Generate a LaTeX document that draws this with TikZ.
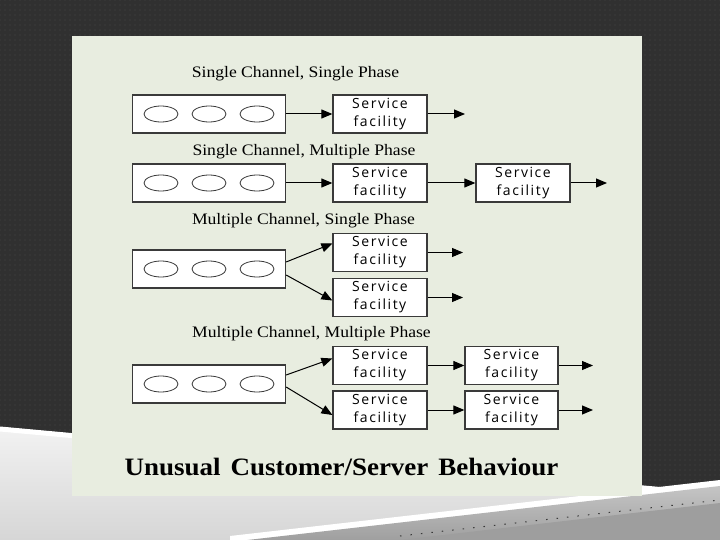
\documentclass[tikz,border=0pt]{standalone}
\usepackage{fontspec}
\setmainfont{Liberation Serif}
\newfontfamily\titlefont[FakeStretch=1.1]{Liberation Serif}
\newfontfamily\capfont[FakeStretch=1.08]{Liberation Serif}
\newfontfamily\svcfont[LetterSpace=11]{Open Sans}
\usetikzlibrary{arrows.meta,shapes.geometric,patterns.meta}
\definecolor{bgdark}{HTML}{303030}
\definecolor{bgdot}{HTML}{474747}
\definecolor{panel}{HTML}{E8EDE0}
\definecolor{boxline}{HTML}{3A3A3A}
\definecolor{lightsw}{HTML}{D6D6D6}
\definecolor{lighttop}{HTML}{F2F2F2}
\definecolor{graysw}{HTML}{9E9E9E}
\tikzset{
  queuebox/.style={draw=boxline,line width=1.3pt,fill=white,minimum width=153pt,minimum height=38pt,inner sep=0pt},
  svcbox/.style={draw=boxline,line width=1.3pt,fill=white,minimum width=94pt,minimum height=38pt,inner sep=0pt,
     align=center,font=\svcfont\fontsize{14}{18}\selectfont},
  cust/.style={ellipse,draw=boxline,line width=0.8pt,minimum width=34pt,minimum height=16pt,inner sep=0pt},
  title/.style={font=\titlefont\fontsize{16}{18}\selectfont,inner sep=0pt},
  flow/.style={draw=black,line width=1pt,-{Triangle[length=11pt,width=9pt]}}
}
\begin{document}
\begin{tikzpicture}[x=1pt,y=-1pt]
\useasboundingbox (0,0) rectangle (720,540);
% background
\fill[bgdark] (0,0) rectangle (720,540);
\fill[pattern={Dots[distance=5pt,radius=0.55pt]},pattern color=bgdot] (0,0) rectangle (720,540);
% bottom swoosh
\shade[top color=lighttop,bottom color=lightsw] (0,427) -- (720,493) -- (720,540) -- (0,540) -- cycle;
\draw[white,line width=5pt] (0,429) -- (720,495);
\fill[white] (230,536) -- (720,480) -- (720,489) -- (230,545) -- cycle;
\shade[top color=graysw!60!white,bottom color=graysw] (230,542) -- (720,486) -- (720,540) -- cycle;
\fill[graysw] (400,540) -- (720,503) -- (720,540) -- cycle;
\draw[bgdot!80!black,line width=1pt,dash pattern=on 1.5pt off 9pt] (400,536) -- (720,500);
% panel
\fill[panel] (72,36) rectangle (642,496);

% titles
\node[title] (t1) at (295.5,74) {Single Channel, Single Phase};
\node[title] (t2) at (304,152) {Single Channel, Multiple Phase};
\node[title] (t3) at (303.5,221) {Multiple Channel, Single Phase};
\node[title] (t4) at (311.5,334) {Multiple Channel, Multiple Phase};

% row 1
\node[queuebox] (q1) at (209,114) {};
\node[cust] (c11) at (161,114) {};
\node[cust] (c12) at (209,114) {};
\node[cust] (c13) at (257,114) {};
\node[svcbox] (s1) at (380,114) {Service\\facility};
\coordinate (o1) at (465,114);
\draw[flow] (q1) -- (s1);
\draw[flow] (s1) -- (o1);

% row 2
\node[queuebox] (q2) at (209,183) {};
\node[cust] (c21) at (161,183) {};
\node[cust] (c22) at (209,183) {};
\node[cust] (c23) at (257,183) {};
\node[svcbox] (s2) at (380,183) {Service\\facility};
\node[svcbox] (s2b) at (523,183) {Service\\facility};
\coordinate (o2) at (607,183);
\draw[flow] (q2) -- (s2);
\draw[flow] (s2) -- (s2b);
\draw[flow] (s2b) -- (o2);

% row 3
\node[queuebox] (q3) at (209,269) {};
\node[cust] (c31) at (161,269) {};
\node[cust] (c32) at (209,269) {};
\node[cust] (c33) at (257,269) {};
\node[svcbox] (s3a) at (380,252.5) {Service\\facility};
\node[svcbox] (s3b) at (380,297.5) {Service\\facility};
\coordinate (o3a) at (463,252.5);
\coordinate (o3b) at (463,297.5);
\draw[flow] ([yshift=7pt]q3.east) -- ([yshift=9pt]s3a.west);
\draw[flow] ([yshift=-6pt]q3.east) -- ([yshift=-3pt]s3b.west);
\draw[flow] (s3a) -- (o3a);
\draw[flow] (s3b) -- (o3b);

% row 4
\node[queuebox] (q4) at (209,384) {};
\node[cust] (c41) at (161,384) {};
\node[cust] (c42) at (209,384) {};
\node[cust] (c43) at (257,384) {};
\node[svcbox] (s4a) at (380,365.5) {Service\\facility};
\node[svcbox] (s4b) at (380,410) {Service\\facility};
\node[svcbox,minimum width=93pt] (s4c) at (511.5,365.5) {Service\\facility};
\node[svcbox,minimum width=93pt] (s4d) at (511.5,410) {Service\\facility};
\coordinate (o4a) at (593,365.5);
\coordinate (o4b) at (593,410);
\draw[flow] ([yshift=9pt]q4.east) -- ([yshift=7pt]s4a.west);
\draw[flow] ([yshift=-3pt]q4.east) -- ([yshift=-5pt]s4b.west);
\draw[flow] (s4a) -- (s4c);
\draw[flow] (s4b) -- (s4d);
\draw[flow] (s4c) -- (o4a);
\draw[flow] (s4d) -- (o4b);

% caption
\node[font=\capfont\bfseries\fontsize{25}{28}\selectfont,inner sep=0pt] (cap) at (341.5,467) {\spaceskip=10pt Unusual Customer/Server Behaviour};
\end{tikzpicture}
\end{document}
